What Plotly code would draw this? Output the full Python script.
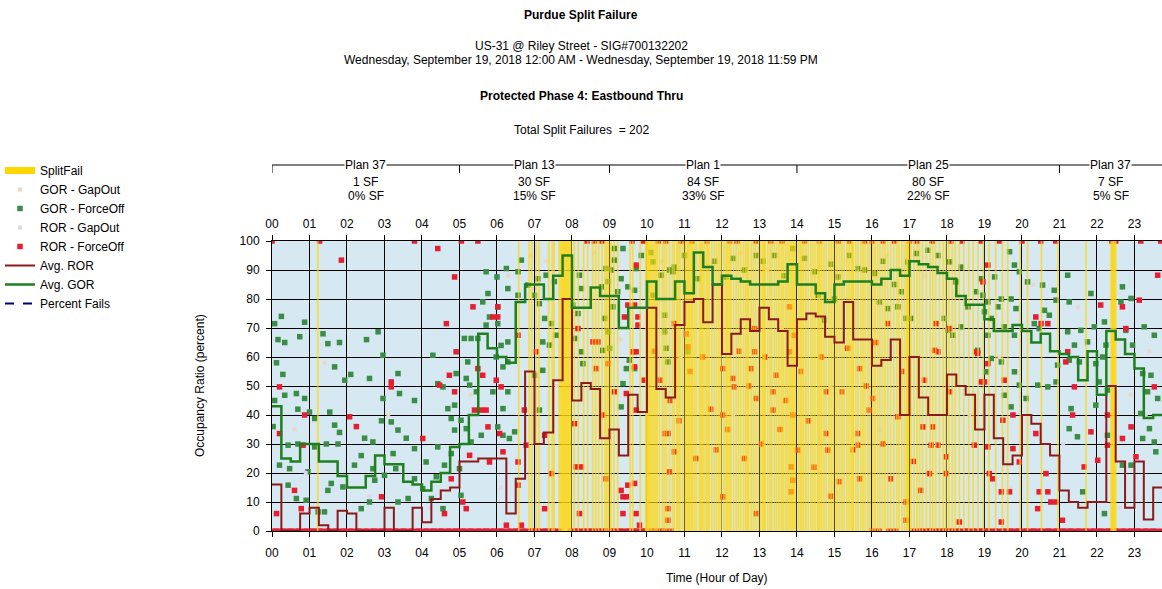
import plotly.graph_objects as go

# ---------------- data ----------------
hour_labels = ["00", "01", "02", "03", "04", "05", "06", "07", "08", "09", "10", "11",
               "12", "13", "14", "15", "16", "17", "18", "19", "20", "21", "22", "23"]
y_ticks = [0, 10, 20, 30, 40, 50, 60, 70, 80, 90, 100]

plan_names = ["Plan 37", "Plan 13", "Plan 1", "Plan 25", "Plan 37"]
plan_starts = [0, 5, 9, 14, 21]
plan_ends = [5, 9, 14, 21, 24]
plan_sf = [1, 30, 84, 80, 7]
plan_sf_pct = [0, 15, 33, 22, 5]
total_split_failures = 202

# 15-minute averages (values per quarter hour, starting 00:00)
avg_gor = [43, 25, 24, 30, 30, 24, 24, 19, 15, 15, 19, 26, 23, 23, 17, 16,
           14, 17, 20, 29, 30, 40, 68, 63, 60, 58, 79, 85, 85, 80, 88, 95,
           77, 77, 84, 81, 81, 70, 77, 77, 86, 80, 80, 86, 82, 96, 91, 85,
           88, 87, 86, 85, 85, 85, 86, 92, 85, 85, 82, 79, 85, 86, 86, 86,
           85, 87, 90, 88, 93, 92, 91, 89, 87, 81, 78, 78, 73, 69, 69, 71,
           69, 65, 68, 62, 61, 60, 52, 62, 47, 69, 66, 61, 56, 39, 40, 40]
avg_ror = [16, 0, 0, 6, 8, 2, 0, 7, 6, 0, 0, 0, 8, 0, 0, 8,
           3, 11, 14, 15, 24, 24, 25, 25, 25, 6, 18, 55, 30, 34, 52, 80,
           45, 51, 49, 32, 35, 26, 47, 41, 77, 49, 46, 71, 79, 80, 72, 85,
           61, 68, 73, 69, 77, 73, 69, 57, 73, 75, 74, 67, 65, 79, 66, 66,
           57, 59, 66, 40, 60, 46, 40, 40, 54, 50, 47, 35, 47, 32, 23, 26,
           40, 37, 30, 26, 14, 10, 8, 10, 10, 50, 24, 8, 24, 4, 15, 15]
avg_bin_hours = [q / 4 for q in range(len(avg_gor))] + [24]

# split failure times (hour of day)
split_fail_hours = [
    1.22,
    6.58, 6.86, 6.93, 7.04, 7.12, 7.38, 7.47, 7.52, 7.66, 7.70, 7.73, 7.76, 7.79, 7.82, 7.85,
    7.88, 7.91, 7.94, 7.97, 8.06, 8.17, 8.31, 8.42, 8.55, 8.63, 8.71, 8.80, 8.88, 8.93, 8.98,
    9.04, 9.12, 9.22, 9.55, 9.62, 9.82, 9.97, 9.99,
    10.00, 10.03, 10.06, 10.10, 10.14, 10.19, 10.23, 10.27, 10.33, 10.41, 10.46, 10.52, 10.60,
    10.68, 10.73, 10.80, 10.84, 10.88, 10.95, 11.02, 11.06, 11.10, 11.14, 11.18, 11.22, 11.27,
    11.32, 11.40, 11.44, 11.47, 11.52, 11.58, 11.62, 11.66, 11.73, 11.80, 11.86, 11.92, 11.98,
    12.05, 12.11, 12.14, 12.19, 12.24, 12.31, 12.38, 12.44, 12.50, 12.57, 12.63, 12.67, 12.71,
    12.78, 12.84, 12.90, 12.97, 13.03, 13.09, 13.12, 13.15, 13.22, 13.28, 13.33, 13.40, 13.46,
    13.52, 13.58, 13.63, 13.69, 13.74, 13.79, 13.84, 13.88, 13.92, 13.96,
    14.04, 14.09, 14.13, 14.18, 14.24, 14.30, 14.37, 14.42, 14.48, 14.55, 14.58, 14.61, 14.66,
    14.72, 14.78, 14.85, 14.91, 14.97, 15.03, 15.08, 15.14, 15.20, 15.26, 15.33, 15.39, 15.45,
    15.48, 15.50, 15.57, 15.63, 15.70, 15.76, 15.82, 15.89, 15.95, 16.02, 16.08, 16.15, 16.21,
    16.28, 16.35, 16.42, 16.50, 16.58, 16.66, 16.72, 16.80, 16.87, 16.93, 16.95, 16.98, 17.04,
    17.12, 17.20, 17.27, 17.35, 17.45, 17.55, 17.62, 17.70, 17.80, 17.90, 17.97, 18.05, 18.14,
    18.22, 18.33, 18.45, 18.58, 18.70, 18.83, 18.97, 19.12, 19.30, 19.48, 19.62, 19.95, 20.15,
    20.52, 20.96,
    21.71, 22.38, 22.41, 22.43, 22.45, 22.47, 22.50,
]

gor_forceoff_points = [
    (0.07, 71.5), (0.25, 74), (0.16, 66), (0.34, 65), (0.74, 67), (0.87, 72), (1.36, 68), (1.49, 64.6),
    (1.8, 65), (0.12, 58), (0.29, 54), (1.67, 56.6), (1.94, 52), (2.1, 54), (2.6, 52.6), (2.52, 66),
    (2.83, 68.7), (2.96, 60.6), (0.07, 45), (0.34, 46.8), (0.65, 47.4), (0.87, 45.7), (2.96, 45.7),
    (3.36, 54.3), (3.4, 47.4), (3.8, 45), (0.69, 42), (1.0, 41), (1.14, 38.8), (1.54, 41), (1.67, 36.5),
    (1.8, 34), (0.03, 36), (0.43, 29.6), (0.69, 30), (1.14, 29), (1.45, 30), (1.76, 30), (2.47, 32),
    (2.69, 30.7), (2.92, 38), (3.18, 37.6), (3.36, 34.8), (3.58, 32), (3.8, 28.4), (2.38, 26),
    (2.2, 22.7), (2.69, 21.5), (3.23, 26.7), (3.3, 21.5), (0.2, 22.7), (0.47, 21.5), (0.96, 20.4),
    (1.58, 16.4), (1.89, 15.2), (1.49, 14), (2.74, 17.5), (3.0, 19.2), (3.8, 18), (0.43, 15.8),
    (0.65, 11.2), (0.91, 10.6), (1.23, 6.6), (1.4, 6.6), (2.38, 7.7), (2.6, 10), (3.36, 10), (3.63, 11.2),
    (4.29, 60.6), (5.71, 89.4), (6.25, 90.5), (6.0, 87.6), (6.56, 89.4), (6.65, 93.4), (6.29, 83.6),
    (5.76, 81.9), (5.62, 79), (6.02, 77.3), (6.56, 81.3), (6.82, 84.8), (7.09, 87), (7.31, 88.2),
    (7.53, 86), (7.0, 81.3), (7.13, 78.4), (7.27, 73.3), (7.45, 71.5), (7.58, 67.5), (7.22, 65.2),
    (5.8, 73.8), (6.02, 71.5), (5.71, 71), (5.13, 66.4), (5.31, 66.4), (5.49, 66.4), (6.11, 64),
    (6.29, 65.2), (5.98, 60), (6.29, 58.3), (6.16, 56.6), (5.22, 58.3), (4.91, 54.3), (5.18, 52.6),
    (4.42, 50.8), (4.56, 49.7), (5.27, 50.3), (5.45, 48), (5.89, 48), (6.16, 42.2), (6.29, 48),
    (4.87, 43.4), (4.69, 42.2), (4.78, 38.8), (5.04, 38.2), (5.18, 35.3), (4.87, 34.8), (6.02, 35.9),
    (6.16, 33), (6.33, 31.9), (6.47, 34.2), (5.58, 33), (5.31, 30.7), (4.42, 29), (4.78, 26.7),
    (4.11, 23.8), (4.6, 22.7), (4.38, 18.7), (5.0, 21.5), (4.02, 14.6), (4.25, 11.2), (5.04, 12.3),
    (4.56, 7.7), (7.0, 53.7), (7.22, 55.4), (7.4, 64.1), (7.13, 41.7),
    (9.13, 97.4), (9.36, 97.4), (9.13, 93.4), (8.91, 90.5), (9.05, 90), (9.85, 95), (9.71, 90.5),
    (9.49, 84.2), (9.67, 83), (9.31, 87), (9.22, 82.5), (8.96, 86), (8.78, 84.2), (8.2, 88.2),
    (8.25, 83.6), (8.02, 77.9), (8.16, 75), (9.09, 77.3), (8.87, 73.3), (8.96, 68.7), (8.82, 62.3),
    (9.0, 63), (8.25, 61.8), (8.07, 66.4), (8.29, 57.7), (9.53, 58.9), (9.67, 56), (9.36, 50.8),
    (9.31, 42.8), (9.45, 56), (10.47, 68.7), (10.51, 63), (10.56, 58.3), (10.47, 74.4), (10.73, 91),
    (10.69, 89.4), (10.38, 88.2), (10.16, 92.8), (11.09, 61.8), (10.16, 81.3),
    (12.91, 95), (13.4, 95), (13.89, 97.4), (15.62, 90.5), (15.0, 80), (15.09, 87.6), (12.29, 94),
    (12.11, 87.6), (14.56, 81.3), (14.73, 72.7), (14.47, 89.4),
    (10.1, 96), (10.6, 90), (11.0, 95), (11.35, 87), (11.8, 93), (12.6, 90), (13.1, 93), (13.65, 88),
    (14.2, 94), (14.9, 92), (15.4, 95), (15.8, 90), (16.3, 93), (16.6, 85),
    (17.18, 95.7), (17.49, 96.8), (17.76, 95), (18.07, 92.8), (18.38, 91), (18.24, 85.9), (16.96, 92.8),
    (16.78, 82.5), (16.69, 77.3), (16.91, 73.3), (17.04, 73.3), (16.2, 79), (16.42, 76.7), (16.07, 88.8),
    (19.67, 96.3), (19.8, 91.7), (19.27, 87.6), (18.91, 87), (18.78, 82.5), (18.96, 81.3), (19.09, 79),
    (18.56, 77.3), (19.0, 75.6), (19.18, 73.3), (19.36, 77.3), (19.45, 80), (19.71, 80), (19.84, 76.7),
    (19.53, 70.4), (19.8, 67.5), (18.38, 70.4), (19.09, 67.5), (18.82, 62.3), (19.18, 59.5),
    (19.45, 58.3), (19.05, 54.9), (19.8, 54.9), (19.53, 46.8), (19.71, 42.8), (17.93, 73.3),
    (18.02, 69.2), (18.16, 67.5),
    (21.22, 88.2), (20.86, 83), (19.93, 89.4), (20.15, 85.9), (20.55, 84.8), (20.91, 79.6), (21.26, 79),
    (21.84, 81.9), (22.68, 84.2), (22.64, 79), (22.91, 80.2), (20.6, 76.1), (20.73, 74.4), (20.33, 71.5),
    (20.46, 69.8), (21.22, 68.7), (21.57, 69.2), (21.93, 70.4), (22.2, 72.1), (22.77, 69.2),
    (23.26, 70.4), (23.53, 67.5), (21.4, 64.1), (21.75, 65.2), (22.24, 64.1), (22.95, 64.1),
    (20.95, 57.2), (21.26, 58.9), (21.53, 58.3), (21.97, 57.7), (22.15, 60), (23.22, 54.3),
    (23.44, 53.7), (20.91, 51.4), (20.42, 50.3), (20.69, 49.7), (22.06, 51.4), (22.28, 48.6),
    (23.35, 48), (23.62, 45.7), (21.31, 42.2), (21.97, 43.4), (23.17, 40.5), (21.26, 35.3),
    (21.48, 32.5), (23.4, 35.3), (23.22, 31.9), (23.53, 30.7), (22.28, 33), (22.68, 22.7),
    (22.91, 22.7), (23.57, 27.3), (21.62, 13.5), (22.2, 6), (19.93, 50.3), (20.11, 45.7),
]

ror_forceoff_points = [
    (1.27, 100), (1.85, 93.4), (3.8, 100), (0.2, 49.7), (3.18, 51.4), (3.18, 49.7), (0.87, 40),
    (2.07, 39.4), (2.25, 36), (0.83, 29.6), (0.6, 14), (2.92, 11.8), (0.12, 6), (0.78, 7.7), (0.2, 33.6),
    (4.42, 97.4), (5.49, 100), (4.87, 87.6), (5.36, 77.3), (6.02, 77.3), (5.89, 73.8), (6.02, 73.8),
    (4.65, 71.5), (6.56, 67.5), (4.91, 61.8), (7.05, 61.8), (5.49, 56), (5.62, 53.7), (5.98, 52),
    (6.11, 49.7), (4.47, 50.3), (4.73, 53.7), (4.87, 48), (5.4, 41.7), (5.58, 41.7), (5.71, 41.7),
    (5.76, 35.9), (6.07, 33.6), (6.73, 41.7), (6.78, 29.6), (4.02, 31.9), (5.27, 26.1), (5.8, 23.8),
    (6.16, 27.3), (6.56, 23.8), (6.56, 15.8), (4.78, 18), (5.09, 10), (5.18, 7.7), (4.6, 6),
    (6.25, 2), (6.65, 2), (7.27, 33), (7.45, 19.8), (7.27, 7.7),
    (9.71, 91.7), (9.49, 77.9), (9.67, 77.9), (9.4, 73.8), (9.76, 73.8), (9.76, 71), (8.16, 69.8),
    (8.56, 65.2), (8.69, 65.2), (9.62, 61.8), (9.71, 61.8), (8.65, 56), (8.96, 57.7), (9.67, 56.6),
    (9.93, 52), (9.13, 48), (9.45, 47.4), (9.71, 41.7), (8.82, 40), (8.07, 37), (10.47, 33.6),
    (10.56, 33.6), (10.73, 27.3), (8.11, 22.1), (8.25, 22.1), (8.91, 18), (9.67, 16.4), (9.49, 15.8),
    (9.31, 14), (9.36, 11.8), (9.45, 11.8), (8.2, 6), (9.36, 6), (9.71, 6), (9.8, 2), (10.56, 7.7),
    (10.56, 3.7), (10.73, 71.5), (11.05, 68), (10.6, 20.4), (11.09, 63.5),
    (13.8, 77.3), (12.87, 69.8), (12.02, 56), (12.29, 52.6), (12.87, 61.8), (13.8, 61.8), (13.45, 53.7),
    (13.36, 48), (12.91, 45.7), (13.36, 41.7), (13.89, 40), (12.02, 40), (14.78, 48), (14.78, 33.6),
    (14.82, 27.9), (15.67, 56), (15.62, 33.6), (15.62, 29.6), (15.67, 18), (13.85, 22.1), (13.89, 17.5),
    (13.85, 13.5), (12.02, 11.8), (12.91, 6), (14.02, 27.9), (15.13, 17), (13.93, 67.5), (12.78, 56),
    (12.33, 49.7),
    (10.2, 62), (10.35, 52), (10.62, 45), (10.85, 38), (11.15, 55), (11.3, 25), (11.48, 60), (11.7, 42),
    (11.85, 28), (12.15, 35), (12.45, 62), (12.6, 25), (12.72, 50), (13.05, 30), (13.15, 60),
    (13.55, 35), (13.7, 45), (14.1, 55), (14.3, 38), (14.45, 22), (14.65, 60), (14.9, 12), (15.2, 48),
    (15.35, 63), (15.5, 28), (15.85, 50), (16.1, 65), (16.3, 30), (16.5, 18), (16.8, 55), (17.1, 24),
    (17.3, 14), (17.4, 52),
    (19.09, 91.7), (18.96, 85.9), (18.07, 69.8), (17.71, 71.5), (17.67, 62.3), (17.76, 61.8),
    (18.78, 61.8), (18.82, 61.2), (19.09, 57.7), (19.53, 52), (18.91, 51.4), (19.0, 51.4), (16.42, 71.5),
    (16.02, 45.7), (15.93, 41.7), (16.69, 39.4), (17.36, 35.9), (17.62, 35.9), (19.49, 38.2),
    (19.76, 40), (18.07, 48), (17.98, 25.6), (17.58, 29.6), (17.76, 29.6), (18.73, 29.6), (19.09, 29),
    (19.76, 28.4), (17.53, 19.8), (17.98, 19.8), (19.13, 19.8), (19.22, 18), (19.45, 13.5),
    (19.67, 13.5), (16.91, 10), (16.91, 3.7), (19.45, 3.1), (18.33, 3.1),
    (22.1, 77.9), (23.13, 79.6), (22.68, 77.3), (23.62, 88.2), (23.17, 100), (22.77, 69.8), (20.37, 73.8),
    (20.69, 71.5), (20.51, 71.5), (21.22, 61.8), (21.17, 58.3), (21.4, 49.7), (23.53, 49.7), (21.35, 40),
    (21.84, 34.2), (22.28, 40), (22.91, 35.9), (22.68, 31.9), (23.04, 25.6), (22.28, 29.6),
    (20.37, 33.6), (20.64, 19.8), (20.69, 13.5), (20.46, 13.5), (20.77, 10), (20.91, 10), (20.42, 7.7),
    (21.08, 3.7), (21.66, 22.1), (22.02, 24.4), (19.93, 23.8),
    (0.0, 100), (5.05, 100), (8.4, 100), (8.6, 100), (8.8, 100), (9.6, 100), (9.9, 100), (10.3, 100),
    (10.5, 100), (10.9, 100), (11.2, 100), (11.6, 100), (12.2, 100), (12.4, 100), (12.9, 100),
    (13.3, 100), (13.6, 100), (14.2, 100), (14.6, 100), (15.1, 100), (15.4, 100), (15.8, 100),
    (16.0, 100), (16.3, 100), (16.6, 100), (17.0, 100), (17.2, 100), (17.6, 100), (18.1, 100),
    (18.4, 100), (18.9, 100), (19.4, 100), (20.0, 100), (20.5, 100), (20.9, 100), (22.4, 100),
    (22.5, 100), (23.7, 100),
]

# cycles whose red occupancy ratio was zero (hour of day)
ror_zero_hours = [
    0.02, 0.2, 0.41, 0.58, 0.8, 1.01, 1.18, 1.4, 1.61, 1.79, 2.0, 2.22, 2.4, 2.63, 2.81, 3.02, 3.2,
    3.42, 3.6, 3.83, 4.01, 4.22, 4.4, 4.61, 4.82, 5.0, 5.21, 5.4, 5.62, 5.8, 6.01, 6.2, 6.43, 6.6,
    6.82, 7.0, 7.18, 7.4, 7.58, 8.05, 8.22, 8.43, 8.61, 8.8, 9.0, 9.2, 9.41, 9.6, 9.78, 10.02, 10.3,
    10.55, 16.1, 16.55, 17.2, 17.45, 17.6, 17.85, 18.0, 18.2, 18.42, 18.6, 18.83, 19.0, 19.2, 19.41,
    19.6, 19.82, 20.0, 20.22, 20.4, 20.61, 20.8, 21.02, 21.2, 21.4, 21.61, 21.8, 22.01, 22.2, 22.4,
    22.6, 22.82, 23.0, 23.2, 23.41, 23.6,
]

gor_gapout_points = [
    (0.6, 35), (1.4, 58), (3.1, 40), (5.3, 47), (6.3, 88), (6.9, 95), (7.3, 93), (8.6, 96), (9.3, 66),
    (10.4, 93), (11.7, 92), (12.5, 96), (13.2, 90), (14.6, 91), (15.3, 93), (16.4, 95), (17.1, 60),
    (17.4, 88), (18.6, 40), (19.4, 60), (20.3, 85), (21.5, 77), (22.9, 47), (23.4, 62),
]
ror_gapout_points = [
    (0.9, 20), (2.6, 12), (4.2, 8), (6.1, 15), (7.6, 50), (9.1, 30), (10.9, 60), (12.3, 40),
    (13.6, 70), (14.9, 50), (16.2, 35), (17.7, 20), (19.7, 15), (21.1, 30), (22.6, 8), (23.3, 40),
]

# ---------------- styling ----------------
FONT = "Liberation Sans, Arial, sans-serif"
X_MAX = 23.735
C_GREEN_PT = "#3a8c46"
C_RED_PT = "#e61e32"
C_AVG_ROR = "#8b1a1a"
C_AVG_GOR = "#1f7f1f"
C_SF = "rgba(255,215,10,0.7)"

fig = go.Figure()


def unzip(points):
    return [p[0] for p in points], [p[1] for p in points]


# points (below split-fail bars)
gx, gy = unzip(gor_gapout_points)
fig.add_trace(go.Scatter(x=gx, y=gy, mode="markers", name="GOR - GapOut", legendrank=2,
                         marker=dict(symbol="square", size=4, color="#ecd6c4")))
gx, gy = unzip(gor_forceoff_points)
fig.add_trace(go.Scatter(x=gx, y=gy, mode="markers", name="GOR - ForceOff", legendrank=3,
                         marker=dict(symbol="square", size=5.5, color=C_GREEN_PT)))
rx, ry = unzip(ror_gapout_points)
fig.add_trace(go.Scatter(x=rx, y=ry, mode="markers", name="ROR - GapOut", legendrank=4,
                         marker=dict(symbol="square", size=4, color="#dcd6ee")))
rx, ry = unzip(ror_forceoff_points)
fig.add_trace(go.Scatter(x=rx, y=ry, mode="markers", name="ROR - ForceOff", legendrank=5,
                         legendgroup="rorfo",
                         marker=dict(symbol="square", size=5.5, color=C_RED_PT)))
fig.add_trace(go.Scatter(x=ror_zero_hours, y=[0] * len(ror_zero_hours), mode="markers",
                         showlegend=False, legendgroup="rorfo",
                         marker=dict(symbol="line-ew", size=9,
                                     line=dict(width=5, color=C_RED_PT))))

# split failure bars
sf_x, sf_y = [], []
for t in split_fail_hours:
    sf_x += [t, t, None]
    sf_y += [0, 100, None]
fig.add_trace(go.Scatter(x=sf_x, y=sf_y, mode="lines", showlegend=False,
                         line=dict(color=C_SF, width=1.8)))
fig.add_trace(go.Scatter(x=[None], y=[None], mode="lines", name="SplitFail", legendrank=1,
                         line=dict(color="#ffd700", width=7)))

# averages
fig.add_trace(go.Scatter(x=avg_bin_hours, y=avg_ror + [avg_ror[-1]], mode="lines",
                         name="Avg. ROR", legendrank=6, line_shape="hv",
                         line=dict(color=C_AVG_ROR, width=2)))
fig.add_trace(go.Scatter(x=avg_bin_hours, y=avg_gor + [avg_gor[-1]], mode="lines",
                         name="Avg. GOR", legendrank=7, line_shape="hv",
                         line=dict(color=C_AVG_GOR, width=2.5)))
fig.add_trace(go.Scatter(x=[None], y=[None], mode="lines", name="Percent Fails", legendrank=8,
                         line=dict(color="#000080", width=2, dash="dash")))
# top axis carrier
fig.add_trace(go.Scatter(x=[0, X_MAX], y=[None, None], xaxis="x2", showlegend=False,
                         mode="lines", hoverinfo="skip"))

# ---------------- layout ----------------
PLOT_TOP, PLOT_BOTTOM = 241, 531


def py(pix):
    return (PLOT_BOTTOM - pix) / (PLOT_BOTTOM - PLOT_TOP)


CENTER_X = (581 - 272) / 890

axis_common = dict(range=[0, X_MAX], tickvals=list(range(24)), ticktext=hour_labels,
                   ticks="outside", ticklen=5, tickcolor="black",
                   tickfont=dict(family=FONT, size=12, color="black"),
                   showline=True, linecolor="black", linewidth=1, zeroline=False)

fig.update_layout(
    width=1162, height=589,
    margin=dict(l=272, r=0, t=PLOT_TOP, b=589 - PLOT_BOTTOM),
    paper_bgcolor="white", plot_bgcolor="#d6e8f1",
    font=dict(family=FONT, size=12, color="black"),
    xaxis=dict(**axis_common, showgrid=True, gridcolor="black", gridwidth=1,
               ticklabelstandoff=6),
    xaxis2=dict(**axis_common, overlaying="x", side="top", matches="x", showgrid=False,
                ticklabelstandoff=2),
    yaxis=dict(range=[0, 100], tickvals=y_ticks, ticks="outside", ticklen=5, tickcolor="black",
               tickfont=dict(family=FONT, size=12, color="black"), showgrid=True,
               gridcolor="black", gridwidth=1, showline=True, linecolor="black",
               zeroline=False, ticklabelstandoff=4),
    legend=dict(x=-0.306, y=py(156), xanchor="left", yanchor="top", bgcolor="rgba(0,0,0,0)",
                font=dict(family=FONT, size=12, color="black"), itemwidth=30,
                tracegroupgap=0),
    showlegend=True,
)

annotations = [
    dict(text="<b>Purdue Split Failure</b>", x=CENTER_X, y=py(15)),
    dict(text="US-31 @ Riley Street - SIG#700132202", x=CENTER_X, y=py(46)),
    dict(text="Wednesday, September 19, 2018 12:00 AM - Wednesday, September 19, 2018 11:59 PM",
         x=CENTER_X, y=py(60)),
    dict(text="<b>Protected Phase 4: Eastbound Thru</b>", x=CENTER_X, y=py(96)),
    dict(text="Total Split Failures&nbsp; = %d" % total_split_failures, x=CENTER_X, y=py(130)),
]
for a in annotations:
    a.update(xref="paper", yref="paper")

shapes = [dict(type="line", xref="x", yref="paper", x0=0, x1=X_MAX, y0=py(165), y1=py(165),
               line=dict(color="black", width=1))]
for s, e, name, n, pct in zip(plan_starts, plan_ends, plan_names, plan_sf, plan_sf_pct):
    shapes.append(dict(type="line", xref="x", yref="paper", x0=s, x1=s, y0=py(165), y1=py(173),
                       line=dict(color="black", width=1)))
    mid = (s + min(e, X_MAX)) / 2
    annotations.append(dict(text=name, x=mid, y=py(165), xref="x", yref="paper",
                            bgcolor="white", borderpad=0))
    annotations.append(dict(text="%d SF" % n, x=mid, y=py(182), xref="x", yref="paper"))
    annotations.append(dict(text="%d%% SF" % pct, x=mid, y=py(196), xref="x", yref="paper"))

annotations.append(dict(text="Occupancy Ratio (percent)", x=(200 - 272) / 890, y=0.5,
                        xref="paper", yref="paper", textangle=-90))
annotations.append(dict(text="Time (Hour of Day)", x=0.5, y=py(578), xref="paper", yref="paper"))

for a in annotations:
    a.update(showarrow=False, xanchor="center", yanchor="middle",
             font=dict(family=FONT, size=12, color="black"))

fig.update_layout(annotations=annotations, shapes=shapes)
fig.write_html("out.html")
